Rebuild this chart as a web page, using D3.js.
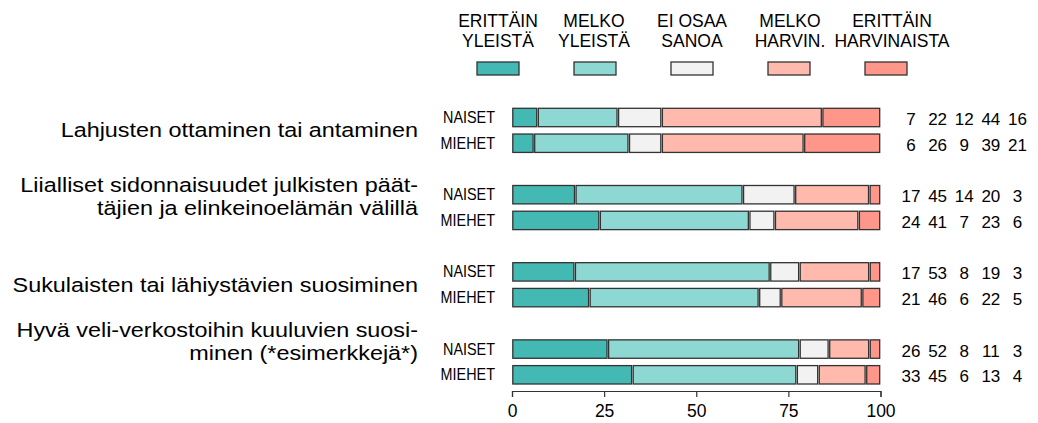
<!DOCTYPE html>
<html>
<head>
<meta charset="utf-8">
<script src="https://cdn.jsdelivr.net/npm/d3@7"></script>
<style>
  html, body { margin: 0; padding: 0; background: #ffffff; }
  svg { display: block; }
  text { font-family: "Liberation Sans", Arial, Helvetica, sans-serif; fill: #000; }
</style>
</head>
<body>
<svg id="chart" width="1038" height="423"></svg>
<script>
// ---- data ----
const categories = [
  ["Lahjusten ottaminen tai antaminen"],
  ["Liialliset sidonnaisuudet julkisten päät-", "täjien ja elinkeinoelämän välillä"],
  ["Sukulaisten tai lähiystävien suosiminen"],
  ["Hyvä veli-verkostoihin kuuluvien suosi-", "minen (*esimerkkejä*)"]
];
const groups = ["NAISET", "MIEHET"];
const responses = ["ERITTÄIN YLEISTÄ", "MELKO YLEISTÄ", "EI OSAA SANOA", "MELKO HARVIN.", "ERITTÄIN HARVINAISTA"];
const legendLines = [["ERITTÄIN", "YLEISTÄ"], ["MELKO", "YLEISTÄ"], ["EI OSAA", "SANOA"], ["MELKO", "HARVIN."], ["ERITTÄIN", "HARVINAISTA"]];
const naisetValues = [
  [7, 22, 12, 44, 16],
  [17, 45, 14, 20, 3],
  [17, 53, 8, 19, 3],
  [26, 52, 8, 11, 3]
];
const miehetValues = [
  [6, 26, 9, 39, 21],
  [24, 41, 7, 23, 6],
  [21, 46, 6, 22, 5],
  [33, 45, 6, 13, 4]
];
const xTicks = [0, 25, 50, 75, 100];

// ---- styles ----
const colors = ["#44b9b4", "#8ed8d3", "#f2f2f2", "#ffb9ad", "#ff968a"];
const strokeCol = "#333333";
const legendTextShift = [0, -1, 0, 1, 6];

const svg = d3.select("#chart");
svg.append("rect").attr("width", 1038).attr("height", 423).attr("fill", "#fff");

const x = d3.scaleLinear().domain([0, 100]).range([512, 880.5]);
const slot = d3.scaleLinear().domain([0, 10]).range([117.5, 374.8]);
const numX = d3.scalePoint().domain(d3.range(5)).range([911, 1017.5]);
const legX = d3.scalePoint().domain(responses).range([498, 886]);

const barH = 18.4;
const inset = 0.8;

// rows
const rows = [];
categories.forEach((c, gi) => {
  [naisetValues[gi], miehetValues[gi]].forEach((vals, ri) => {
    rows.push({ gi, ri, label: groups[ri], vals, yc: slot(gi * 3 + ri) });
  });
});

rows.forEach(row => {
  const total = d3.sum(row.vals);
  let cum = 0;
  const segs = row.vals.map((v, i) => {
    const s = { i, c0: cum / total * 100, c1: (cum + v) / total * 100 };
    cum += v;
    return s;
  });
  const g = svg.append("g");
  g.selectAll("rect").data(segs).join("rect")
    .attr("x", d => x(d.c0) + inset)
    .attr("width", d => Math.max(0, x(d.c1) - x(d.c0) - 2 * inset))
    .attr("y", row.yc - barH / 2)
    .attr("height", barH)
    .attr("fill", d => colors[d.i])
    .attr("stroke", strokeCol)
    .attr("stroke-width", 1.3);

  svg.append("text")
    .attr("transform", `translate(495,${row.yc + 5.5}) scale(0.9,1)`)
    .attr("text-anchor", "end")
    .style("font-size", "16px")
    .text(row.label);

  svg.append("g").selectAll("text").data(row.vals).join("text")
    .attr("x", (d, i) => numX(i))
    .attr("y", row.yc + 7.5)
    .attr("text-anchor", "middle")
    .style("font-size", "17px")
    .text(d => d);
});

// category labels
categories.forEach((lines, gi) => {
  const center = (slot(gi * 3) + slot(gi * 3 + 1)) / 2;
  let offs;
  if (lines.length === 1) offs = [7];
  else offs = gi === 1 ? [-15.5, 7.5] : [-25, -2];
  lines.forEach((ln, li) => {
    svg.append("text")
      .attr("transform", `translate(418,${center + offs[li]}) scale(1.2,1)`)
      .attr("text-anchor", "end")
      .style("font-size", "19.5px")
      .text(ln);
  });
});

// axis
const axis = d3.axisBottom(x).tickValues(xTicks).tickSize(6).tickSizeOuter(6).tickPadding(8);
const ax = svg.append("g").attr("transform", "translate(0,391)").call(axis);
ax.select(".domain").attr("stroke", strokeCol).attr("stroke-width", 1.2);
ax.selectAll(".tick line").attr("stroke", strokeCol).attr("stroke-width", 1.2);
ax.selectAll(".tick text").style("font-size", "17.5px")
  .style("font-family", '"Liberation Sans", Arial, Helvetica, sans-serif').attr("fill", "#000");

// legend
const leg = svg.append("g");
responses.forEach((r, i) => {
  const cx = legX(r);
  legendLines[i].forEach((ln, li) => {
    leg.append("text")
      .attr("x", cx + legendTextShift[i]).attr("y", 27 + li * 19.5)
      .attr("text-anchor", "middle")
      .style("font-size", "17.5px")
      .text(ln);
  });
  leg.append("rect")
    .attr("x", cx - 21).attr("y", 62)
    .attr("width", 42).attr("height", 13)
    .attr("fill", colors[i])
    .attr("stroke", strokeCol)
    .attr("stroke-width", 1.3);
});
</script>
</body>
</html>
